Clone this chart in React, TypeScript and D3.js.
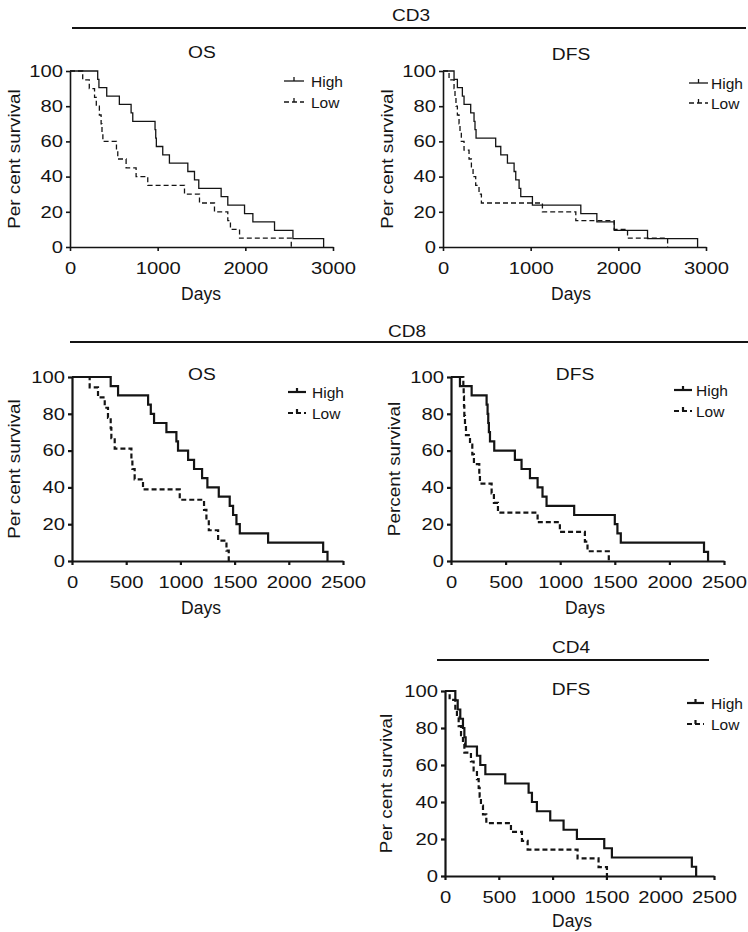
import React, { useRef, useEffect } from 'react'
import * as d3 from 'd3'

// Kaplan-Meier steps: days of each event and per cent survival after it

// CD3 OS
const cd3OsHighDays = [0, 316, 330, 419, 563, 697, 716, 970, 978, 985, 1058, 1134, 1344, 1420, 1469, 1724, 1800, 1991, 2086, 2333, 2543, 2893]
const cd3OsHighSurv = [100, 95.2, 90.5, 85.7, 81, 76.2, 71.4, 66.7, 61.9, 57.1, 52.4, 47.6, 42.9, 38.1, 33.3, 28.6, 23.8, 19, 14.3, 9.5, 4.8, 0]
const cd3OsLowDays = [0, 145, 220, 280, 300, 335, 355, 365, 375, 530, 545, 640, 754, 887, 1306, 1477, 1648, 1800, 1830, 1934, 2524]
const cd3OsLowSurv = [100, 95, 90, 85, 80, 75, 70, 65, 60, 55, 50, 45, 40, 35, 30, 25, 20, 15, 10, 5, 0]

// CD3 DFS
const cd3DfsHighDays = [0, 126, 164, 221, 240, 316, 354, 365, 377, 601, 659, 735, 811, 830, 868, 887, 1020, 1572, 1755, 1953, 2333, 2904]
const cd3DfsHighSurv = [100, 95.2, 90.5, 85.7, 81, 76.2, 71.4, 66.7, 61.9, 57.1, 52.4, 47.6, 42.9, 38.1, 33.3, 28.6, 23.8, 19, 14.3, 9.5, 4.8, 0]
const cd3DfsLowDays = [0, 69, 126, 137, 148, 164, 183, 194, 209, 240, 297, 324, 343, 373, 411, 438, 1134, 1515, 1953, 2105, 2562]
const cd3DfsLowSurv = [100, 95, 90, 85, 80, 75, 70, 65, 60, 55, 50, 45, 40, 35, 30, 25, 20, 15, 10, 5, 0]

// CD8 OS
const cd8OsHighDays = [0, 357, 425, 702, 727, 757, 871, 963, 978, 1071, 1126, 1200, 1249, 1354, 1455, 1486, 1517, 1548, 1809, 2317, 2357]
const cd8OsHighSurv = [100, 95, 90, 85, 80, 75, 70, 65, 60, 55, 50, 45, 40, 35, 30, 25, 20, 15, 10, 5, 0]
const cd8OsLowDays = [0, 163, 240, 302, 332, 357, 363, 394, 548, 557, 578, 655, 994, 1218, 1240, 1262, 1348, 1425, 1446]
const cd8OsLowSurv = [100, 94.4, 88.9, 83.3, 77.8, 72.2, 66.7, 61.1, 55.6, 50, 44.4, 38.9, 33.3, 27.8, 22.2, 16.7, 11.1, 5.6, 0]

// CD8 DFS
const cd8DfsHighDays = [0, 82, 189, 326, 335, 341, 347, 357, 396, 585, 646, 723, 793, 838, 875, 1128, 1500, 1524, 1555, 2317, 2354]
const cd8DfsHighSurv = [100, 95, 90, 85, 80, 75, 70, 65, 60, 55, 50, 45, 40, 35, 30, 25, 20, 15, 10, 5, 0]
const cd8DfsLowDays = [0, 113, 116, 119, 122, 128, 137, 174, 195, 210, 259, 265, 372, 393, 430, 793, 997, 1226, 1250, 1445]
const cd8DfsLowSurv = [100, 94.7, 89.5, 84.2, 78.9, 73.7, 68.4, 63.2, 57.9, 52.6, 47.4, 42.1, 36.8, 31.6, 26.3, 21.1, 15.8, 10.5, 5.3, 0]

// CD4 DFS
const cd4DfsHighDays = [0, 96, 118, 142, 167, 180, 192, 297, 328, 375, 560, 777, 808, 854, 978, 1102, 1226, 1480, 1551, 2294, 2334]
const cd4DfsHighSurv = [100, 95, 90, 85, 80, 75, 70, 65, 60, 55, 50, 45, 40, 35, 30, 25, 20, 15, 10, 5, 0]
const cd4DfsLowDays = [0, 43, 96, 111, 127, 149, 167, 180, 241, 266, 297, 313, 322, 334, 353, 384, 613, 715, 768, 1232, 1427, 1505]
const cd4DfsLowSurv = [100, 95.2, 90.5, 85.7, 81, 76.2, 71.4, 66.7, 61.9, 57.1, 52.4, 47.6, 42.9, 38.1, 33.3, 28.6, 23.8, 19, 14.3, 9.5, 4.8, 0]

const yTicks = [0, 20, 40, 60, 80, 100]
const xTicks3000 = [0, 1000, 2000, 3000]
const xTicks2500 = [0, 500, 1000, 1500, 2000, 2500]
const seriesNames = ['High', 'Low']

const FONT = "'Liberation Sans', Arial, Helvetica, sans-serif"
const INK = '#141414'
const FS = 16.3 // most labels; glyphs in the figure are set wide, so they get stretched a bit

const zip = (a: number[], b: number[]) => a.map((d, i) => [d, b[i]] as [number, number])

// widen glyphs of a text selection by factor k, keeping it real text
const widen = (sel: any, k: number) => {
  sel.each(function (this: SVGTextElement) {
    const len = this.getComputedTextLength()
    d3.select(this).attr('textLength', len * k).attr('lengthAdjust', 'spacingAndGlyphs')
  })
}

// group headers: label + rule
const groups = [
  { label: 'CD3', tx: 411, ty: 21, lx0: 72, lx1: 746, ly: 28 },
  { label: 'CD8', tx: 407, ty: 337, lx0: 70, lx1: 748, ly: 342 },
  { label: 'CD4', tx: 571, ty: 653, lx0: 437, lx1: 709, ly: 660 },
]

const panels = [
  {
    x0: 70, x1: 333, yTop: 71, yBot: 247, xMax: 3000, ticks: xTicks3000,
    title: 'OS', titleX: 202, titleY: 58, ylabel: 'Per cent survival', ylabelX: 14,
    daysX: 201, daysY: 300, legX0: 284, legX1: 304, legTX: 311, legY: [81, 102],
    lw: 1.3, aw: 1.6,
    high: zip(cd3OsHighDays, cd3OsHighSurv), low: zip(cd3OsLowDays, cd3OsLowSurv),
  },
  {
    x0: 443, x1: 706, yTop: 71, yBot: 247, xMax: 3000, ticks: xTicks3000,
    title: 'DFS', titleX: 571, titleY: 60, ylabel: 'Per cent survival', ylabelX: 387,
    daysX: 571, daysY: 300, legX0: 689, legX1: 708, legTX: 711, legY: [83, 103],
    lw: 1.3, aw: 1.6,
    high: zip(cd3DfsHighDays, cd3DfsHighSurv), low: zip(cd3DfsLowDays, cd3DfsLowSurv),
  },
  {
    x0: 72, x1: 343, yTop: 377, yBot: 561, xMax: 2500, ticks: xTicks2500,
    title: 'OS', titleX: 202, titleY: 380, ylabel: 'Per cent survival', ylabelX: 14,
    daysX: 201, daysY: 614, legX0: 288, legX1: 306, legTX: 312, legY: [392, 413],
    lw: 2.2, aw: 2.2,
    high: zip(cd8OsHighDays, cd8OsHighSurv), low: zip(cd8OsLowDays, cd8OsLowSurv),
  },
  {
    x0: 451, x1: 724, yTop: 377, yBot: 561, xMax: 2500, ticks: xTicks2500,
    title: 'DFS', titleX: 575, titleY: 380, ylabel: 'Percent survival', ylabelX: 394,
    daysX: 585, daysY: 614, legX0: 674, legX1: 692, legTX: 696, legY: [390, 411],
    lw: 2.2, aw: 2.2,
    high: zip(cd8DfsHighDays, cd8DfsHighSurv), low: zip(cd8DfsLowDays, cd8DfsLowSurv),
  },
  {
    x0: 445, x1: 714, yTop: 691, yBot: 876, xMax: 2500, ticks: xTicks2500,
    title: 'DFS', titleX: 571, titleY: 695, ylabel: 'Per cent survival', ylabelX: 386,
    daysX: 572, daysY: 927, legX0: 687, legX1: 704, legTX: 711, legY: [703, 724],
    lw: 2.2, aw: 2.2,
    high: zip(cd4DfsHighDays, cd4DfsHighSurv), low: zip(cd4DfsLowDays, cd4DfsLowSurv),
  },
]

const App = () => {
  const svgRef = useRef<SVGSVGElement>(null)

  useEffect(() => {
    const svg = d3.select(svgRef.current)
    svg.selectAll('*').remove()

    groups.forEach(gr => {
      const t = svg.append('text')
        .attr('x', gr.tx).attr('y', gr.ty)
        .attr('text-anchor', 'middle')
        .attr('font-family', FONT).attr('font-size', FS)
        .attr('fill', INK)
        .text(gr.label)
      widen(t, 1.17)
      svg.append('line')
        .attr('x1', gr.lx0).attr('x2', gr.lx1)
        .attr('y1', gr.ly).attr('y2', gr.ly)
        .attr('stroke', INK).attr('stroke-width', 2)
    })

    panels.forEach(p => {
      const x = d3.scaleLinear().domain([0, p.xMax]).range([p.x0, p.x1])
      const y = d3.scaleLinear().domain([0, 100]).range([p.yBot, p.yTop])
      const g = svg.append('g')

      // axes
      const xa = g.append('g')
        .attr('transform', `translate(0,${p.yBot})`)
        .call(d3.axisBottom(x).tickValues(p.ticks).tickSize(4).tickSizeOuter(0).tickPadding(11).tickFormat(d3.format('d')))
      const ya = g.append('g')
        .attr('transform', `translate(${p.x0},0)`)
        .call(d3.axisLeft(y).tickValues(yTicks).tickSize(4).tickSizeOuter(0).tickPadding(3))
      ;[xa, ya].forEach(a => {
        a.attr('font-family', FONT).attr('font-size', FS).attr('color', INK)
        a.selectAll('path, line').attr('stroke-width', p.aw)
        widen(a.selectAll('text'), 1.24)
      })

      // curves
      const line = d3.line<[number, number]>()
        .x(d => x(d[0]))
        .y(d => y(d[1]))
        .curve(d3.curveStepAfter)

      g.append('path')
        .datum(p.high)
        .attr('fill', 'none').attr('stroke', INK)
        .attr('stroke-width', p.lw)
        .attr('d', line)
      g.append('path')
        .datum(p.low)
        .attr('fill', 'none').attr('stroke', INK)
        .attr('stroke-width', p.lw)
        .attr('stroke-dasharray', '5,3')
        .attr('d', line)

      // titles
      const tt = g.append('text')
        .attr('x', p.titleX).attr('y', p.titleY)
        .attr('text-anchor', 'middle')
        .attr('font-family', FONT).attr('font-size', FS).attr('fill', INK)
        .text(p.title)
      widen(tt, 1.18)
      g.append('text')
        .attr('x', p.daysX).attr('y', p.daysY)
        .attr('text-anchor', 'middle')
        .attr('font-family', FONT).attr('font-size', 17.5).attr('fill', INK)
        .text('Days')
      const yl = g.append('text')
        .attr('transform', `translate(${p.ylabelX},${(p.yTop + p.yBot) / 2}) rotate(-90)`)
        .attr('text-anchor', 'middle')
        .attr('dy', '0.35em')
        .attr('font-family', FONT).attr('font-size', FS).attr('fill', INK)
        .text(p.ylabel)
      widen(yl, 1.16)

      // legend
      seriesNames.forEach((name, i) => {
        const ly = p.legY[i]
        const mid = (p.legX0 + p.legX1) / 2
        g.append('line')
          .attr('x1', p.legX0).attr('x2', p.legX1)
          .attr('y1', ly).attr('y2', ly)
          .attr('stroke', INK).attr('stroke-width', p.lw)
          .attr('stroke-dasharray', i === 1 ? '5,3' : null)
        g.append('line')
          .attr('x1', mid).attr('x2', mid)
          .attr('y1', ly).attr('y2', ly - 4)
          .attr('stroke', INK).attr('stroke-width', p.lw)
        g.append('text')
          .attr('x', p.legTX).attr('y', ly + 5.5)
          .attr('font-family', FONT).attr('font-size', 15.5).attr('fill', INK)
          .text(name)
      })
    })
  }, [])

  return (
    <svg ref={svgRef} width={748} height={932}
      style={{ position: 'absolute', left: 0, top: 0, background: '#fff' }} />
  )
}

export default App
